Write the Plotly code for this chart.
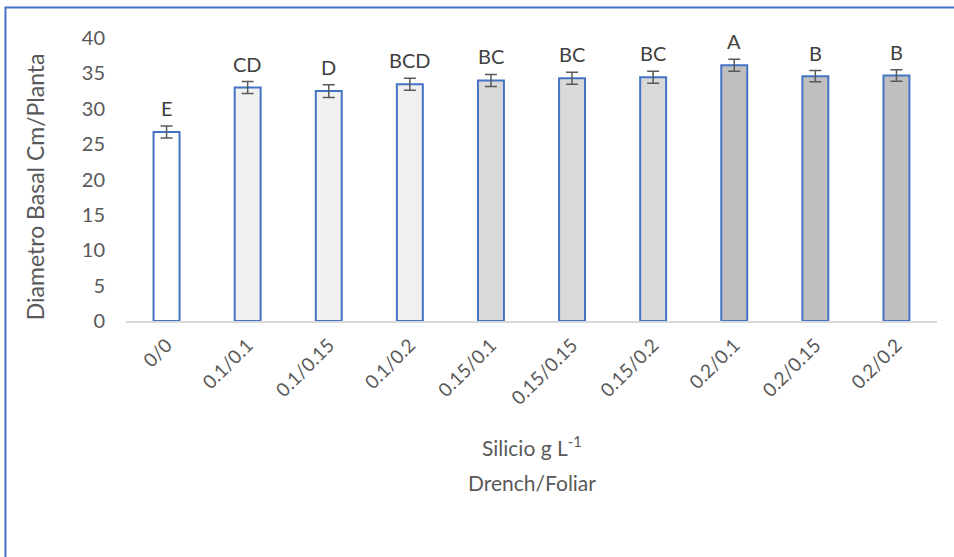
import plotly.graph_objects as go

# Treatments: drench / foliar silicon doses (g L-1)
categories = ["0/0", "0.1/0.1", "0.1/0.15", "0.1/0.2", "0.15/0.1",
              "0.15/0.15", "0.15/0.2", "0.2/0.1", "0.2/0.15", "0.2/0.2"]
diameter = [26.7, 33.0, 32.5, 33.45, 34.0, 34.3, 34.45, 36.15, 34.6, 34.7]
std_err = [0.85, 0.85, 0.9, 0.85, 0.85, 0.85, 0.85, 0.85, 0.8, 0.8]
letters = ["E", "CD", "D", "BCD", "BC", "BC", "BC", "A", "B", "B"]
fill_colors = ["#ffffff", "#f0f0f0", "#f0f0f0", "#f0f0f0", "#d9d9d9",
               "#d9d9d9", "#d9d9d9", "#bfbfbf", "#bfbfbf", "#bfbfbf"]

TEXT = "#595959"
FONT = "Lato"

fig = go.Figure()

fig.add_trace(go.Bar(
    x=categories,
    y=diameter,
    width=0.32,
    marker=dict(color=fill_colors, line=dict(color="#4472c4", width=2)),
    error_y=dict(type="data", array=std_err, visible=True,
                 color=TEXT, thickness=1.5, width=6),
    hoverinfo="x+y",
))

annotations = []
# Significance letters sit above each error bar
for cat, v, e, lab in zip(categories, diameter, std_err, letters):
    annotations.append(dict(
        x=cat, y=v + e, xref="x", yref="y", text=lab, showarrow=False,
        yanchor="bottom", yshift=4,
        font=dict(family=FONT, size=20, color="#404040"),
    ))

# Axis titles placed as annotations for precise spacing
annotations += [
    dict(text="Silicio g L<sup>-1</sup>", xref="paper", yref="paper",
         x=0.5, y=-0.442, xanchor="center", yanchor="middle", showarrow=False,
         font=dict(family=FONT, size=21, color=TEXT)),
    dict(text="Drench/Foliar", xref="paper", yref="paper",
         x=0.5, y=-0.569, xanchor="center", yanchor="middle", showarrow=False,
         font=dict(family=FONT, size=21, color=TEXT)),
    dict(text="Diametro Basal Cm/Planta", xref="paper", yref="paper",
         x=-0.112, y=0.4735, xanchor="center", yanchor="middle", textangle=-90,
         showarrow=False, font=dict(family=FONT, size=23, color=TEXT)),
]

fig.update_layout(
    width=954, height=557,
    margin=dict(l=126, r=17, t=38, b=236),
    paper_bgcolor="white",
    plot_bgcolor="white",
    showlegend=False,
    font=dict(family=FONT, color=TEXT),
    annotations=annotations,
    shapes=[dict(type="rect", xref="paper", yref="paper",
                 x0=-0.1486, x1=1.2, y0=-1.5, y1=1.1078,
                 line=dict(color="#4472c4", width=2), layer="below")],
)

fig.update_xaxes(
    tickangle=-45,
    tickfont=dict(family=FONT, size=19, color=TEXT),
    showline=True, linecolor="#d9d9d9", linewidth=1.5,
    ticks="", showgrid=False, ticklabelstandoff=4,
)

fig.update_yaxes(
    range=[0, 40],
    dtick=5,
    tickfont=dict(family=FONT, size=20, color=TEXT),
    showline=False, showgrid=False, zeroline=False,
    ticks="", ticklabelstandoff=20,
)

fig.write_html("out.html")
